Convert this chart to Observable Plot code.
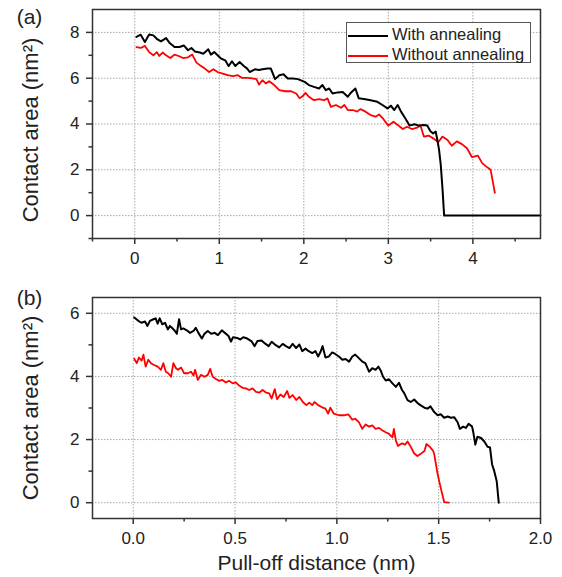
<!DOCTYPE html>
<html>
<head>
<meta charset="utf-8">
<script src="https://cdn.jsdelivr.net/npm/d3@7"></script>
<script src="https://cdn.jsdelivr.net/npm/@observablehq/plot@0.6"></script>
<style>
  html, body { margin: 0; padding: 0; background: #fff; }
  #wrap { position: relative; width: 562px; height: 577px; font-family: "Liberation Sans", Arial, sans-serif; color: #222; }
  #wrap svg.plot { position: absolute; left: 0; }
  #legend { position: absolute; left: 346px; top: 22px; width: 185px; height: 41px; box-sizing: border-box; border: 1px solid #555; background: #fff; }
  #legend .row { position: absolute; left: 0; height: 20px; font-size: 16.5px; line-height: 20px; white-space: nowrap; }
  #legend .sw { display: inline-block; width: 40px; height: 0; border-top: 2px solid; vertical-align: middle; margin: 0 4px 0 1px; }
</style>
</head>
<body>
<div id="wrap"></div>
<script>
// ---------- Data ----------
const seriesNames = ["With annealing", "Without annealing"];
const seriesColors = ["#000000", "#ff0000"];
const panelLabels = ["(a)", "(b)"];
const yLabel = "Contact area (nm²)";
const xLabel = "Pull-off distance (nm)";

// Panel (a) ticks
const aXTicks = [0, 1, 2, 3, 4];
const aXMinor = [-0.5, 0.5, 1.5, 2.5, 3.5, 4.5];
const aYTicks = [0, 2, 4, 6, 8];
const aYMinor = [-1, 1, 3, 5, 7];
// Panel (b) ticks
const bXTicks = [0.0, 0.5, 1.0, 1.5, 2.0];
const bXMinor = [0.25, 0.75, 1.25, 1.75];
const bYTicks = [0, 2, 4, 6];
const bYMinor = [1, 3, 5];

// Panel (a): With annealing [distance, area]
const aWith = [
  [0.02,7.80],[0.07,7.90],[0.12,7.58],[0.17,7.91],[0.22,7.87],[0.26,7.72],[0.31,7.61],[0.37,7.75],
  [0.41,7.55],[0.47,7.36],[0.53,7.36],[0.58,7.43],[0.63,7.22],[0.67,7.32],[0.71,7.17],[0.77,7.12],
  [0.81,7.07],[0.87,7.26],[0.90,7.03],[0.94,7.14],[0.98,7.00],[1.02,6.86],[1.07,6.78],[1.11,6.53],
  [1.15,6.74],[1.19,6.53],[1.24,6.71],[1.29,6.53],[1.33,6.42],[1.36,6.27],[1.42,6.39],[1.47,6.36],
  [1.51,6.39],[1.57,6.42],[1.61,6.42],[1.66,5.96],[1.71,6.13],[1.76,6.17],[1.81,5.99],[1.87,5.99],
  [1.93,5.96],[2.01,5.84],[2.06,5.70],[2.12,5.62],[2.18,5.55],[2.22,5.70],[2.26,5.48],[2.30,5.55],
  [2.34,5.33],[2.40,5.38],[2.46,5.40],[2.52,5.19],[2.56,5.38],[2.61,5.55],[2.65,5.12],[2.71,5.09],
  [2.79,5.04],[2.87,4.97],[2.93,4.83],[2.99,4.68],[3.03,4.80],[3.07,4.61],[3.11,4.83],[3.15,4.54],
  [3.20,4.25],[3.25,3.93],[3.31,3.99],[3.36,3.93],[3.42,3.96],[3.46,3.93],[3.50,3.67],[3.53,3.59],
  [3.56,3.67],[3.58,3.30],[3.60,2.87],[3.62,2.22],[3.64,1.20],[3.66,0.00],[4.80,0.00]
];
// Panel (a): Without annealing
const aWithout = [
  [0.02,7.36],[0.07,7.32],[0.12,7.41],[0.17,7.14],[0.22,7.00],[0.26,7.14],[0.29,6.97],[0.33,7.12],
  [0.37,7.00],[0.42,6.88],[0.47,7.03],[0.52,6.97],[0.57,6.88],[0.63,6.91],[0.68,7.03],[0.73,6.68],
  [0.77,6.57],[0.83,6.42],[0.88,6.27],[0.93,6.39],[0.98,6.27],[1.04,6.20],[1.10,6.13],[1.16,6.09],
  [1.22,6.13],[1.27,6.01],[1.33,6.01],[1.39,5.99],[1.44,5.96],[1.47,5.72],[1.51,5.91],[1.55,5.77],
  [1.59,5.87],[1.65,5.70],[1.71,5.48],[1.78,5.43],[1.85,5.43],[1.91,5.33],[1.95,5.12],[1.99,5.23],
  [2.02,5.36],[2.06,5.19],[2.12,5.04],[2.18,5.09],[2.24,5.04],[2.28,5.12],[2.32,4.75],[2.38,4.83],
  [2.44,4.71],[2.48,4.83],[2.52,4.61],[2.58,4.61],[2.63,4.54],[2.67,4.65],[2.73,4.54],[2.79,4.39],
  [2.85,4.32],[2.89,4.42],[2.94,4.22],[3.00,3.93],[3.06,4.10],[3.11,3.96],[3.17,3.78],[3.22,3.88],
  [3.28,3.78],[3.34,3.84],[3.38,3.93],[3.42,3.45],[3.48,3.49],[3.54,3.35],[3.59,3.20],[3.64,3.45],
  [3.70,3.30],[3.75,3.05],[3.81,3.24],[3.87,3.12],[3.93,2.94],[3.99,2.55],[4.06,2.62],[4.11,2.29],
  [4.16,2.14],[4.21,2.00],[4.26,0.99]
];
// Panel (b): With annealing
const bWith = [
  [0.005,5.87],[0.025,5.76],[0.040,5.70],[0.058,5.74],[0.070,5.60],[0.082,5.76],[0.099,5.81],[0.110,5.84],
  [0.120,5.67],[0.130,5.84],[0.143,5.65],[0.156,5.70],[0.170,5.49],[0.180,5.60],[0.190,5.54],[0.205,5.44],
  [0.214,5.35],[0.225,5.81],[0.235,5.49],[0.246,5.52],[0.263,5.46],[0.279,5.38],[0.296,5.44],[0.307,5.54],
  [0.320,5.38],[0.337,5.20],[0.350,5.35],[0.366,5.44],[0.383,5.35],[0.400,5.38],[0.416,5.31],[0.435,5.46],
  [0.450,5.38],[0.468,5.28],[0.480,5.10],[0.490,5.24],[0.510,5.22],[0.526,5.17],[0.540,5.24],[0.560,5.20],
  [0.580,5.12],[0.596,4.96],[0.610,5.12],[0.630,5.14],[0.650,5.03],[0.665,4.96],[0.680,5.10],[0.700,4.99],
  [0.717,4.92],[0.734,5.03],[0.750,4.96],[0.767,4.90],[0.783,5.03],[0.800,4.90],[0.816,5.01],[0.830,4.80],
  [0.846,4.88],[0.862,4.80],[0.879,4.74],[0.895,4.80],[0.908,4.63],[0.920,4.78],[0.930,4.96],[0.944,4.60],
  [0.960,4.63],[0.977,4.76],[0.990,4.72],[1.010,4.63],[1.027,4.53],[1.043,4.55],[1.060,4.47],[1.076,4.63],
  [1.090,4.69],[1.108,4.58],[1.125,4.47],[1.140,4.42],[1.158,4.15],[1.174,4.26],[1.190,4.21],[1.204,4.31],
  [1.215,4.19],[1.227,3.99],[1.240,3.87],[1.256,3.91],[1.273,3.78],[1.290,3.67],[1.305,3.80],[1.320,3.57],
  [1.330,3.48],[1.347,3.25],[1.363,3.19],[1.380,3.27],[1.396,3.16],[1.410,3.09],[1.430,3.01],[1.445,2.98],
  [1.460,3.05],[1.478,2.87],[1.495,2.77],[1.510,2.80],[1.527,2.69],[1.544,2.73],[1.560,2.69],[1.576,2.71],
  [1.593,2.55],[1.604,2.34],[1.620,2.41],[1.634,2.37],[1.647,2.50],[1.664,2.41],[1.670,2.23],[1.680,1.84],
  [1.690,2.09],[1.708,2.05],[1.724,1.94],[1.740,1.77],[1.752,1.75],[1.762,1.22],[1.773,1.00],[1.785,0.68],
  [1.795,0.00]
];
// Panel (b): Without annealing
const bWithout = [
  [0.005,4.56],[0.017,4.42],[0.028,4.60],[0.041,4.50],[0.050,4.69],[0.061,4.31],[0.074,4.53],[0.087,4.42],
  [0.100,4.37],[0.120,4.31],[0.136,4.21],[0.148,4.42],[0.160,4.15],[0.172,4.10],[0.186,3.99],[0.197,4.42],
  [0.210,4.26],[0.220,4.21],[0.235,4.28],[0.250,4.10],[0.268,4.10],[0.284,4.15],[0.296,4.03],[0.304,4.21],
  [0.317,3.89],[0.333,4.05],[0.350,3.99],[0.366,4.05],[0.378,4.24],[0.390,3.99],[0.406,3.92],[0.422,3.86],
  [0.438,3.89],[0.455,3.81],[0.470,3.86],[0.488,3.78],[0.504,3.81],[0.520,3.71],[0.537,3.64],[0.553,3.62],
  [0.570,3.57],[0.586,3.62],[0.603,3.51],[0.620,3.49],[0.635,3.57],[0.652,3.49],[0.668,3.46],[0.680,3.30],
  [0.695,3.60],[0.706,3.28],[0.723,3.43],[0.739,3.35],[0.756,3.54],[0.767,3.32],[0.783,3.41],[0.800,3.25],
  [0.816,3.35],[0.833,3.19],[0.850,3.09],[0.865,3.17],[0.879,3.09],[0.890,3.19],[0.908,3.09],[0.925,3.03],
  [0.944,2.98],[0.957,2.82],[0.968,3.01],[0.985,2.82],[1.010,2.77],[1.035,2.77],[1.056,2.80],[1.076,2.63],
  [1.090,2.66],[1.108,2.55],[1.125,2.34],[1.141,2.48],[1.158,2.41],[1.174,2.45],[1.190,2.34],[1.207,2.37],
  [1.224,2.29],[1.240,2.23],[1.256,2.18],[1.273,2.07],[1.280,2.34],[1.290,1.96],[1.300,1.80],[1.320,1.88],
  [1.335,1.84],[1.347,1.94],[1.363,1.77],[1.380,1.56],[1.396,1.48],[1.410,1.54],[1.430,1.64],[1.440,1.86],
  [1.457,1.77],[1.473,1.64],[1.478,1.54],[1.495,0.90],[1.510,0.47],[1.527,0.02],[1.550,0.00]
];

// ---------- Drawing ----------
const FONT = "'Liberation Sans', Arial, sans-serif";
const INK = "#222";
const GRID = {stroke: "#a8a8a8", strokeOpacity: 1, strokeWidth: 1, strokeDasharray: "1.5,1.5"};

function panel({height, top, marginTop, marginBottom, xDomain, yDomain, xTicks, xMinor, yTicks, yMinor,
                gridX, gridY, xFmt, yFmt, withData, withoutData, label, labelDy, yLabelDy, extra}) {
  const svg = Plot.plot({
    width: 562, height, marginLeft: 92, marginRight: 22, marginTop, marginBottom,
    x: {domain: xDomain}, y: {domain: yDomain},
    style: {fontFamily: FONT, fontSize: "17px", color: INK, background: "transparent", overflow: "visible"},
    marks: [
      Plot.gridX(gridX, GRID),
      Plot.gridY(gridY, GRID),
      Plot.line(withoutData, {x: d => d[0], y: d => d[1], stroke: seriesColors[1], strokeWidth: 1.8}),
      Plot.line(withData, {x: d => d[0], y: d => d[1], stroke: seriesColors[0], strokeWidth: 2}),
      Plot.frame({stroke: "#333", strokeWidth: 1.5}),
      Plot.axisX({ticks: xTicks, tickSize: 6, tickPadding: 7, tickFormat: xFmt, label: null, stroke: "#333", strokeWidth: 1.5, fill: INK}),
      Plot.axisX({ticks: xMinor, tickSize: 3.5, tickFormat: () => "", label: null, stroke: "#333", strokeWidth: 1.5}),
      Plot.axisY({ticks: yTicks, tickSize: 6, tickPadding: 7, tickFormat: yFmt, label: null, stroke: "#333", strokeWidth: 1.5, fill: INK}),
      Plot.axisY({ticks: yMinor, tickSize: 3.5, tickFormat: () => "", label: null, stroke: "#333", strokeWidth: 1.5}),
      Plot.text([yLabel], {text: d => d, frameAnchor: "left", rotate: -90, dx: -62, dy: yLabelDy, fontSize: 22, fill: INK, textAnchor: "middle", lineAnchor: "middle"}),
      Plot.text([label], {text: d => d, frameAnchor: "top-left", dx: -63, dy: labelDy, fontSize: 21, fill: INK, textAnchor: "middle", lineAnchor: "middle"}),
      ...(extra || [])
    ]
  });
  svg.classList.add("plot");
  svg.style.top = top + "px";
  return svg;
}

const wrap = document.getElementById("wrap");

wrap.appendChild(panel({
  height: 284, top: 0, marginTop: 9, marginBottom: 46,
  xDomain: [-0.5, 4.8], yDomain: [-1, 9],
  xTicks: aXTicks, xMinor: aXMinor, yTicks: aYTicks, yMinor: aYMinor,
  gridX: aXTicks, gridY: aYTicks,
  xFmt: d => String(d), yFmt: d => String(d),
  withData: aWith, withoutData: aWithout, label: panelLabels[0], labelDy: 8, yLabelDy: 6
}));

wrap.appendChild(panel({
  height: 293, top: 284, marginTop: 13, marginBottom: 59,
  xDomain: [-0.2, 2.0], yDomain: [-0.5, 6.5],
  xTicks: bXTicks, xMinor: bXMinor, yTicks: bYTicks, yMinor: bYMinor,
  gridX: [0, 0.5, 1.0, 1.5], gridY: bYTicks,
  xFmt: d3.format(".1f"), yFmt: d => String(d),
  withData: bWith, withoutData: bWithout, label: panelLabels[1], labelDy: 1, yLabelDy: 0,
  extra: [
    Plot.text([xLabel], {text: d => d, frameAnchor: "bottom", dy: 45, fontSize: 21, fill: INK, textAnchor: "middle", lineAnchor: "middle"})
  ]
}));

// Legend (panel a)
const legend = document.createElement("div");
legend.id = "legend";
seriesNames.forEach((name, i) => {
  const row = document.createElement("div");
  row.className = "row";
  row.style.top = (1 + i * 20) + "px";
  const sw = document.createElement("span");
  sw.className = "sw";
  sw.style.borderTopColor = seriesColors[i];
  row.appendChild(sw);
  row.appendChild(document.createTextNode(name));
  legend.appendChild(row);
});
wrap.appendChild(legend);
</script>
</body>
</html>
